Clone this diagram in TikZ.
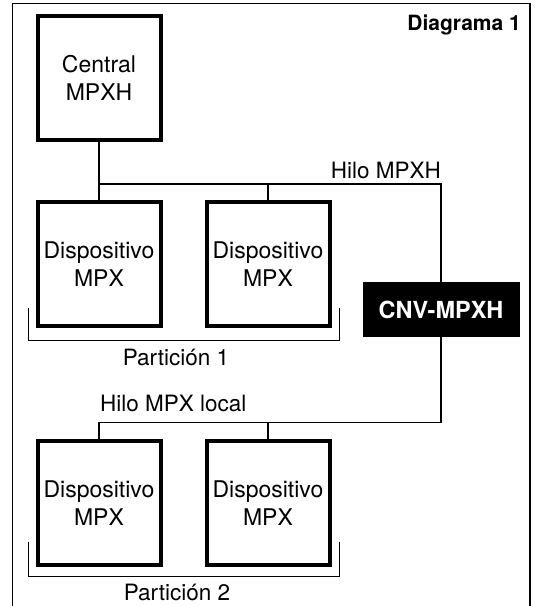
\documentclass[tikz,border=0pt]{standalone}
\usepackage{fontspec}
\setmainfont{TeX Gyre Heros}
\usepackage{tikz}
\usetikzlibrary{positioning}

\tikzset{
    dispbox/.style={draw, line width=4pt, minimum width=123pt, minimum height=124pt, inner sep=0pt, align=center, font=\fontsize{23}{27.4}\selectfont},
    cnvbox/.style={fill=black, text=white, minimum width=157pt, minimum height=55pt, inner sep=0pt, font=\fontsize{23.5}{27}\selectfont\bfseries},
    bus/.style={line width=1.6pt},
    bracket/.style={line width=1.6pt},
    frame/.style={line width=1.6pt},
    lbl/.style={inner sep=0pt, font=\fontsize{22.5}{27}\selectfont}
}

\begin{document}
\begin{tikzpicture}[x=1pt,y=-1pt]
            \useasboundingbox (0,0) rectangle (535,606);
            \draw[frame] (12.5,620) |- (530,3.5) -- (530,620);
            \node[lbl, anchor=base east, font=\fontsize{21}{25}\selectfont\bfseries] (titulo) at (521,30) {Diagrama 1};
            % unidades
            \node[dispbox] (central) at (99,78) {Central\\MPXH};
            \node[dispbox] (d1) at (99,264) {Dispositivo\\MPX};
            \node[dispbox] (d2) at (268,264) {Dispositivo\\MPX};
            \node[cnvbox] (cnv) at (441,309.5) {CNV-MPXH};
            \node[dispbox] (d3) at (99,503) {Dispositivo\\MPX};
            \node[dispbox] (d4) at (268,503) {Dispositivo\\MPX};
            % hilos
            \coordinate (j1) at (99,184);
            \coordinate (j3) at (99,422.5);
            \draw[bus] (central.south) -- (d1.north);
            \draw[bus] (j1) -| (cnv.north);
            \draw[bus] (d2.north) -- (d2.north |- j1);
            \draw[bus] (cnv.south) |- (j3) -- (d3.north);
            \draw[bus] (d4.north) -- (d4.north |- j3);
            \node[lbl, anchor=base east] (hmpxh) at (441,178.5) {Hilo MPXH};
            \node[lbl, anchor=base west] (hmpx) at (100,411) {Hilo MPX local};
            % particiones
            \draw[bracket] (28.5,308) |- (339.5,340.5) -- (339.5,308);
            \node[lbl, anchor=base] (p1) at (176,365.5) {Partición 1};
            \draw[bracket] (28.5,542) |- (339.5,576.5) -- (339.5,542);
            \node[lbl, anchor=base] (p2) at (177,600) {Partición 2};
        \end{tikzpicture}
\end{document}
